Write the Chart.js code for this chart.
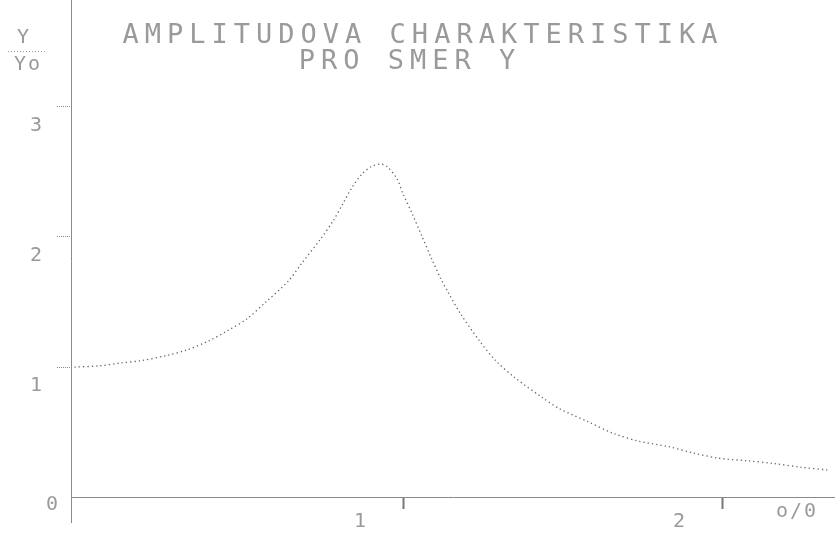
<!DOCTYPE html>
<html>
<head>
<meta charset="utf-8">
<script src="https://cdn.jsdelivr.net/npm/chart.js@4"></script>
<style>
  html, body { margin: 0; padding: 0; background: #fff; }
  #wrap { width: 835px; height: 533px; }
</style>
</head>
<body>
<div id="wrap"><canvas id="amp-chart"></canvas></div>
<script>
// frequency ratio and amplitude ratio
var xValues = [
  -0.03, 0.05, 0.11, 0.18, 0.26, 0.32, 0.39, 0.45, 0.51, 0.57, 0.64, 0.68,
  0.74, 0.78, 0.81, 0.84, 0.87, 0.90, 0.93, 0.95, 0.98, 1.00, 1.03, 1.06,
  1.09, 1.12, 1.14, 1.18, 1.24, 1.29, 1.35, 1.44, 1.49, 1.58, 1.66, 1.74,
  1.83, 1.91, 1.99, 2.08, 2.16, 2.25, 2.33,
];
var yValues = [
  1.0, 1.01, 1.03, 1.05, 1.09, 1.13, 1.2, 1.28, 1.37, 1.5, 1.66, 1.79,
  1.98, 2.12, 2.25, 2.38, 2.48, 2.54, 2.56, 2.54, 2.45, 2.33, 2.17, 2.0,
  1.83, 1.67, 1.58, 1.41, 1.2, 1.05, 0.92, 0.76, 0.68, 0.58, 0.49, 0.43,
  0.39, 0.34, 0.3, 0.28, 0.26, 0.23, 0.21,
];
var xTicks = [1, 2];
var yTicks = [1, 2, 3];
var titleLines = ["AMPLITUDOVA CHARAKTERISTIKA", "PRO SMER Y"];

var points = xValues.map(function (x, i) {
  return { x: x, y: yValues[i] };
});

var mono = "'DejaVu Sans Mono', monospace";
var grey = "#9a9a9a";

// extra texts drawn the same way as the old plotter did
const textPlugin = {
  id: "plotterText",
  afterDraw(chart) {
    const c = chart.ctx;
    c.save();
    c.fillStyle = grey;
    c.textAlign = "center";
    c.textBaseline = "middle";
    c.font = "27px " + mono;
    c.letterSpacing = "6px";
    c.fillText(titleLines[0], 423, 36);
    c.fillText(titleLines[1], 410, 62);
    c.letterSpacing = "2px";
    c.font = "20px " + mono;
    c.fillText("Y", 24, 38);
    c.fillText("Yo", 28, 65);
    c.fillText("0", 53, 505);
    c.fillText("o/0", 797, 512);
    c.strokeStyle = grey;
    c.setLineDash([1, 2]);
    c.beginPath();
    c.moveTo(8, 51.5);
    c.lineTo(46, 51.5);
    c.stroke();
    c.restore();
  },
};

function noPad(axis) {
  axis.paddingTop = 0;
  axis.paddingBottom = 0;
  axis.paddingLeft = 0;
  axis.paddingRight = 0;
}

const ctx = document.getElementById("amp-chart");

const myChart = new Chart(ctx, {
  type: "scatter",
  data: {
    datasets: [
      {
        label: "y/y0",
        data: points,
        showLine: true,
        borderColor: "#666",
        borderWidth: 1.3,
        borderDash: [1.3, 3],
        tension: 0.3,
        pointRadius: 0,
      },
    ],
  },
  options: {
    responsive: true,
    maintainAspectRatio: false,
    animation: false,
    layout: { padding: { top: 0, left: 0, right: 0, bottom: 11 } },
    plugins: {
      legend: { display: false },
      tooltip: { enabled: false },
    },
    scales: {
      x: {
        type: "linear",
        position: { y: 0 },
        min: -0.041,
        max: 2.354,
        afterBuildTicks: function (axis) {
          axis.ticks = xTicks.map(function (v) { return { value: v }; });
        },
        afterFit: noPad,
        border: { display: true, color: "#8a8a8a", dash: [1, 2] },
        grid: {
          drawOnChartArea: false,
          drawTicks: true,
          tickLength: 11,
          tickColor: "#777",
          tickWidth: 2,
        },
        ticks: {
          color: grey,
          font: { size: 20, family: mono },
          labelOffset: -43,
          padding: 2,
        },
      },
      y: {
        min: -0.19,
        max: 3.82,
        afterBuildTicks: function (axis) {
          axis.ticks = yTicks.map(function (v) { return { value: v }; });
        },
        afterFit: function (axis) {
          axis.width = 71;
          noPad(axis);
        },
        border: { display: true, color: "#8a8a8a", dash: [1, 2] },
        grid: {
          drawOnChartArea: false,
          drawTicks: true,
          tickLength: 14,
          tickColor: "#888",
          tickBorderDash: [1, 1],
        },
        ticks: {
          color: grey,
          font: { size: 20, family: mono },
          labelOffset: 19,
          padding: 15,
        },
      },
    },
  },
  plugins: [textPlugin],
});
</script>
</body>
</html>
